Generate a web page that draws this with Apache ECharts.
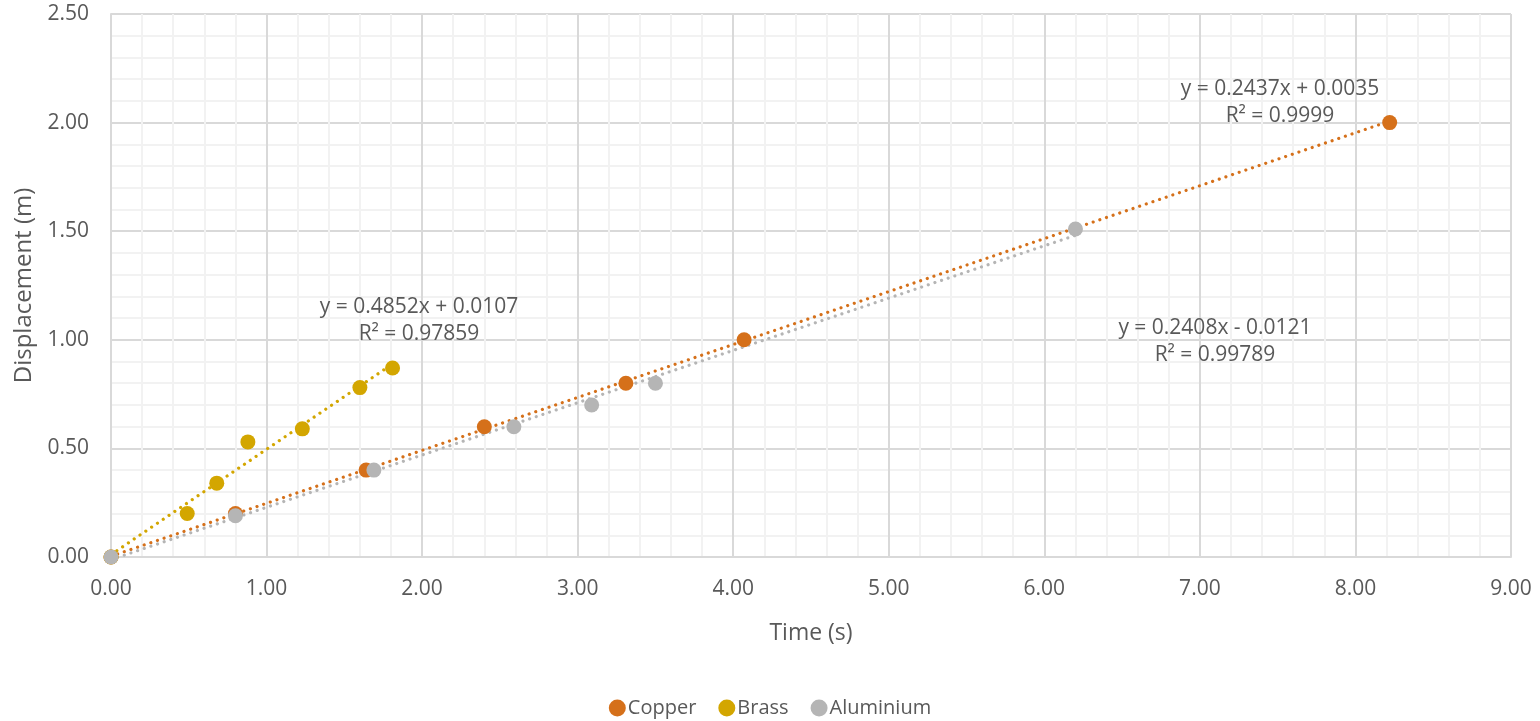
<!DOCTYPE html>
<html>
<head>
<meta charset="UTF-8">
<title>Displacement vs Time</title>
<script src="https://cdn.jsdelivr.net/npm/echarts@6/dist/echarts.min.js"></script>
<style>
  html, body { margin: 0; padding: 0; background: #fff; }
  #main { width: 1540px; height: 721px; }
</style>
</head>
<body>
<div id="main"></div>
<script type="text/javascript">
    // 数据
    var seriesNames = ['Copper', 'Brass', 'Aluminium'];
    var colors = ['#D5701A', '#D3A600', '#B5B5B5'];

    var copperTime = [0, 0.80, 1.64, 2.40, 3.31, 4.07, 8.22];
    var copperDisp = [0, 0.20, 0.40, 0.60, 0.80, 1.00, 2.00];

    var brassTime = [0, 0.49, 0.68, 0.88, 1.23, 1.60, 1.81];
    var brassDisp = [0, 0.20, 0.34, 0.53, 0.59, 0.78, 0.87];

    var aluTime = [0, 0.80, 1.69, 2.59, 3.09, 3.50, 6.20];
    var aluDisp = [0, 0.19, 0.40, 0.60, 0.70, 0.80, 1.51];

    // trendline coefficients (as shown on the chart)
    var slopes = [0.2437, 0.4852, 0.2408];
    var intercepts = [0.0035, 0.0107, -0.0121];
    var eqTexts = [
        ['y = 0.2437x + 0.0035', 'R² = 0.9999'],
        ['y = 0.4852x + 0.0107', 'R² = 0.97859'],
        ['y = 0.2408x - 0.0121', 'R² = 0.99789']
    ];

    var xTicks = [0, 1, 2, 3, 4, 5, 6, 7, 8, 9];
    var yTicks = [0, 0.5, 1, 1.5, 2, 2.5];

    var font = '"Open Sans", "Liberation Sans", sans-serif';
    var textColor = '#595959';

    function pairs(xs, ys) {
        var out = [];
        for (var i = 0; i < xs.length; i++) out.push([xs[i], ys[i]]);
        return out;
    }
    function trend(xs, k) {
        var xmax = Math.max.apply(null, xs);
        return [[0, intercepts[k]], [xmax, slopes[k] * xmax + intercepts[k]]];
    }

    var allTimes = [copperTime, brassTime, aluTime];
    var allDisp = [copperDisp, brassDisp, aluDisp];

    var series = [];
    for (var k = 0; k < 3; k++) {
        series.push({
            name: seriesNames[k] + ' trend',
            type: 'line',
            data: trend(allTimes[k], k),
            symbol: 'none',
            silent: true,
            z: 2,
            lineStyle: { color: colors[k], width: 3.2, type: [0.01, 7], cap: 'round' }
        });
    }
    for (var k = 0; k < 3; k++) {
        series.push({
            name: seriesNames[k],
            type: 'scatter',
            data: pairs(allTimes[k], allDisp[k]),
            symbol: 'circle',
            symbolSize: 15,
            z: 3 + k,
            itemStyle: { color: colors[k], opacity: 1 }
        });
    }

    var myEChart = echarts.init(document.getElementById('main'));

    var eqPos = [[1280, 89], [419, 307], [1215, 328]];
    var graphics = [];
    for (var k = 0; k < 3; k++) {
        for (var j = 0; j < 2; j++) {
            graphics.push({
                type: 'text',
                x: eqPos[k][0],
                y: eqPos[k][1] + j * 27,
                z: 100,
                style: {
                    text: eqTexts[k][j],
                    fill: textColor,
                    font: '21px ' + font,
                    textAlign: 'center',
                    textVerticalAlign: 'middle'
                }
            });
        }
    }

    myEChart.setOption({
        animation: false,
        color: colors,
        textStyle: { fontFamily: font },
        grid: { left: 111, right: 29, top: 14, bottom: 164, containLabel: false },
        legend: {
            data: seriesNames,
            bottom: -2,
            left: 'center',
            itemWidth: 17,
            itemHeight: 17,
            itemGap: 22,
            icon: 'circle',
            textStyle: { color: textColor, fontSize: 20, fontFamily: font, padding: [0, 0, 0, -3] }
        },
        xAxis: {
            type: 'value',
            min: xTicks[0],
            max: xTicks[xTicks.length - 1],
            interval: 1,
            name: 'Time (s)',
            nameLocation: 'middle',
            nameGap: 65,
            nameTextStyle: { color: textColor, fontSize: 23, fontFamily: font },
            axisLine: { show: true, lineStyle: { color: '#D9D9D9', width: 2 } },
            axisTick: { show: false },
            axisLabel: {
                color: textColor, fontSize: 21, fontFamily: font, margin: 22,
                formatter: function (v) { return v.toFixed(2); }
            },
            splitLine: { show: true, lineStyle: { color: '#D9D9D9', width: 2 } },
            minorTick: { show: false, splitNumber: 5 },
            minorSplitLine: { show: true, lineStyle: { color: '#F2F2F2', width: 2 } }
        },
        yAxis: {
            type: 'value',
            min: yTicks[0],
            max: yTicks[yTicks.length - 1],
            interval: 0.5,
            name: 'Displacement (m)',
            nameLocation: 'middle',
            nameGap: 74,
            nameTextStyle: { color: textColor, fontSize: 24, fontFamily: font },
            axisLine: { show: true, lineStyle: { color: '#D9D9D9', width: 2 } },
            axisTick: { show: false },
            axisLabel: {
                color: textColor, fontSize: 21, fontFamily: font, margin: 22,
                formatter: function (v) { return v.toFixed(2); }
            },
            splitLine: { show: true, lineStyle: { color: '#D9D9D9', width: 2 } },
            minorTick: { show: false, splitNumber: 5 },
            minorSplitLine: { show: true, lineStyle: { color: '#F2F2F2', width: 2 } }
        },
        graphic: graphics,
        series: series
    });
</script>
</body>
</html>
